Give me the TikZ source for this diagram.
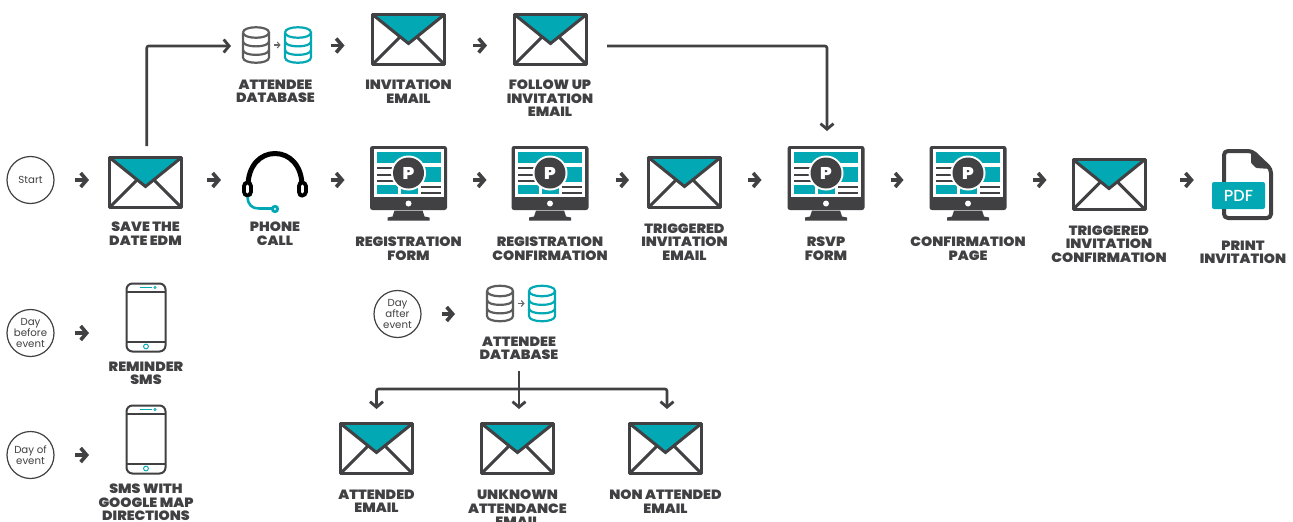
\documentclass[tikz,border=0pt]{standalone}
\usepackage{fontspec}
\setmainfont{Poppins}
\newfontfamily\lab[FakeStretch=1.06]{Poppins Black}
\newfontfamily\pdffont{Poppins Medium}
\usetikzlibrary{arrows.meta,calc}
\definecolor{ink}{HTML}{414042}
\definecolor{teal2}{HTML}{02A9B5}
\tikzset{
  x=1pt,y=-1pt,
  anchorbox/.style={inner sep=0pt,outer sep=0pt,draw=none},
  lbl/.style={anchor=north,inner sep=0pt,outer sep=0pt,align=center,text=ink,font=\lab\fontsize{13.4}{13.4}\selectfont},
  evt/.style={circle,draw=ink,line width=1.2pt,minimum size=47pt,inner sep=0pt,align=center,text=ink,font=\fontsize{10.2}{11}\selectfont},
  chev/.style={draw=ink,line width=3.6pt,-{Straight Barb[length=6pt,width=14pt,line width=3.6pt]}},
  flow/.style={draw=ink,line width=2.6pt,rounded corners=2pt,-{Straight Barb[length=5.5pt,width=13pt,line width=2.8pt]}},
  pics/envelope/.style={code={
    \fill[teal2] (-35,-25) -- (35,-25) -- (0,3) -- cycle;
    \draw[ink,line width=3pt,line join=round] (-36,-25) rectangle (36,25);
    \draw[ink,line width=3pt] (-36,-25) -- (0,4) -- (36,-25);
    \draw[ink,line width=3pt] (-36,25) -- (-9,-2);
    \draw[ink,line width=3pt] (36,25) -- (9,-2);
  }},
  pics/monitor/.style={code={
    \fill[ink,rounded corners=2.5pt] (-38.5,-37.5) rectangle (38.5,26.5);
    \fill[white] (-35,-34.5) rectangle (35,13.5);
    \fill[ink] (-14,27) -- (14,27) -- (16,33) -- (21,34) -- (21,37) -- (-21,37) -- (-21,34) -- (-16,33) -- cycle;
    \fill[white] (0,20) circle[radius=3pt];
    \fill[teal2] (-32,-32) rectangle (32,-20.5);
    \fill[teal2] (10,-16.5) rectangle (32,-2);
    \fill[teal2] (-32,1) rectangle (-11,10.5);
    \fill[teal2] (-8,1) rectangle (9,10.5);
    \fill[ink] (-32,-16.5) rectangle (-15,-14.5);
    \fill[ink] (-32,-10) rectangle (-15,-8);
    \fill[ink] (-32,-3.5) rectangle (-15,-1.5);
    \fill[ink] (12,2) rectangle (32,4.5);
    \fill[ink] (12,8) rectangle (32,10.5);
    \fill[white] (0,-10.5) circle[radius=17.5pt];
    \fill[ink] (0,-10.5) circle[radius=15.5pt];
    \node[text=white,inner sep=0pt,font=\lab\fontsize{17}{17}\selectfont] at (0,-10.5) {P};
  }},
  pics/dbase/.style={code={
    \draw[#1,line width=2.2pt] (-13,-12.5) -- (-13,12.5) .. controls (-13,19.5) and (13,19.5) .. (13,12.5) -- (13,-12.5);
    \draw[#1,line width=2.2pt] (-13,-12.5) .. controls (-13,-19.5) and (13,-19.5) .. (13,-12.5) .. controls (13,-5.5) and (-13,-5.5) .. (-13,-12.5);
    \draw[#1,line width=2.2pt] (-13,-3.5) .. controls (-13,3) and (13,3) .. (13,-3.5);
    \draw[#1,line width=2.2pt] (-13,5) .. controls (-13,11.5) and (13,11.5) .. (13,5);
  }},
  pics/twodb/.style={code={
    \pic at (-21,0) {dbase=ink!85};
    \pic at (21,0) {dbase=teal2};
    \draw[ink!80,line width=1.2pt,-{Straight Barb[length=2.5pt,width=6pt,line width=1.1pt]}] (-3.5,0) -- (3.5,0);
  }},
  pics/phone/.style={code={
    \draw[ink,line width=2pt,rounded corners=6pt] (-19.5,-34) rectangle (19.5,34);
    \draw[ink,line width=2pt] (-19.5,-25.5) -- (19.5,-25.5);
    \draw[ink,line width=2pt] (-19.5,24) -- (19.5,24);
    \draw[teal2,line width=1.6pt] (-6,-30) -- (6,-30);
    \draw[teal2,line width=.8pt] (9,-30) circle[radius=1.1pt];
    \draw[teal2,line width=1pt] (0,29) circle[radius=2.4pt];
  }},
}
\newcommand\chevto[5]{\draw[chev,shorten <=#4pt,shorten >=#5pt] (#1.east |- 0,#3) -- (#2.west |- 0,#3);}
\begin{document}
\begin{tikzpicture}
\useasboundingbox (0,0) rectangle (1293,522);
\fill[white] (0,0) rectangle (1293,522);
% event circles
\node[evt] (start) at (30.5,180) {Start};
\node[evt] (before) at (30.5,333) {Day\\before\\event};
\node[evt] (dayof) at (30.5,455) {Day of\\event};
\node[evt] (after) at (397.5,314) {Day\\after\\event};
% envelopes
\foreach \n/\cx/\cy in {invite/408.5/39.5,follow/550.5/39.5,save/145.5/182.5,trig/684.5/182.5,trigconf/1109/184.5,attended/376.5/448.5,unknown/517.5/448.5,nonatt/665.5/448.5}{
  \node[anchorbox,minimum width=75pt,minimum height=53pt] (\n) at (\cx,\cy) {};
  \pic at (\n) {envelope};
}
% monitors
\foreach \n/\cx in {regform/408.5,regconf/550,rsvp/826,confpage/968}{
  \node[anchorbox,minimum width=77pt,minimum height=75pt] (\n) at (\cx,183.5) {};
  \pic at (\n) {monitor};
}
% databases
\node[anchorbox,minimum width=70pt,minimum height=38pt] (db) at (277,45) {};
\pic at (db) {twodb};
\node[anchorbox,minimum width=70pt,minimum height=38pt] (dbb) at (521,303.5) {};
\pic at (dbb) {twodb};
% phones
\node[anchorbox,minimum width=40pt,minimum height=69pt] (remind) at (146,317.5) {};
\pic at (remind) {phone};
\node[anchorbox,minimum width=40pt,minimum height=69pt] (sms) at (146,439.5) {};
\pic at (sms) {phone};
% headset
\node[anchorbox,minimum width=67pt,minimum height=62pt] (call) at (275.5,182) {};
\draw[black,line width=5pt] (248,186) .. controls (248,166) and (260,153.5) .. (275,153.5) .. controls (290,153.5) and (302,166) .. (302,186);
\draw[black,line width=11pt,line cap=round] (247.5,186) -- (247.5,192);
\draw[black,line width=11pt,line cap=round] (302,186) -- (302,192);
\draw[white,line width=3pt,line cap=round] (247.5,186) -- (247.5,192);
\draw[white,line width=3pt,line cap=round] (302,186) -- (302,192);
\draw[teal2,line width=2.6pt] (247.5,197) .. controls (248,205) and (252,208.5) .. (259,208.5) -- (273,208.5);
\fill[teal2] (275,209) circle[radius=4.2pt];
\fill[white] (275,209) circle[radius=1.2pt];
% pdf
\node[anchorbox,minimum width=62pt,minimum height=70pt] (pdf) at (1243,184) {};
\draw[ink,line width=4pt,rounded corners=4pt,line join=round] (1224,182) -- (1224,151) -- (1252,151) -- (1271,169) -- (1271,218) -- (1224,218) -- (1224,209);
\fill[ink,rounded corners=1pt] (1251,151) -- (1271,169) -- (1256,168) -- (1251,163) -- cycle;
\node[fill=teal2,rounded corners=2pt,minimum width=53pt,minimum height=27pt,inner sep=0pt,text=white,font=\pdffont\fontsize{16}{16}\selectfont] (badge) at (1238.5,195.5) {PDF};
% labels
\node[lbl] (l1) at (275.5,80) {ATTENDEE\\DATABASE};
\node[lbl] (l2) at (408.5,80) {INVITATION\\EMAIL};
\node[lbl] (l3) at (550,80) {FOLLOW UP\\INVITATION\\EMAIL};
\node[lbl] (l4) at (145.5,222) {SAVE THE\\DATE EDM};
\node[lbl] (l5) at (275,222) {PHONE\\CALL};
\node[lbl] (l6) at (408.5,237) {REGISTRATION\\FORM};
\node[lbl] (l7) at (550,237) {REGISTRATION\\CONFIRMATION};
\node[lbl] (l8) at (684.5,224) {TRIGGERED\\INVITATION\\EMAIL};
\node[lbl] (l9) at (826,237) {RSVP\\FORM};
\node[lbl] (l10) at (968,237) {CONFIRMATION\\PAGE};
\node[lbl] (l11) at (1109,226) {TRIGGERED\\INVITATION\\CONFIRMATION};
\node[lbl] (l12) at (1243,241) {PRINT\\INVITATION};
\node[lbl] (l13) at (146,362) {REMINDER\\SMS};
\node[lbl] (l14) at (146,484) {SMS WITH\\GOOGLE MAP\\DIRECTIONS};
\node[lbl] (l15) at (519,337) {ATTENDEE\\DATABASE};
\node[lbl] (l16) at (376.5,490) {ATTENDED\\EMAIL};
\node[lbl] (l17) at (517.5,490) {UNKNOWN\\ATTENDANCE\\EMAIL};
\node[lbl] (l18) at (665.5,490) {NON ATTENDED\\EMAIL};
% chevron connectors
\chevto{start}{save}{180}{20.5}{19}
\chevto{save}{call}{180}{24}{21}
\chevto{call}{regform}{180}{21.5}{25.5}
\chevto{regform}{regconf}{180}{26}{25}
\chevto{regconf}{trig}{180}{27}{18}
\chevto{trig}{rsvp}{180}{26}{26}
\chevto{rsvp}{confpage}{180}{26}{26}
\chevto{confpage}{trigconf}{180}{26}{25}
\chevto{trigconf}{badge}{180}{33}{18}
\chevto{db}{invite}{45.5}{18.5}{26.5}
\chevto{invite}{follow}{45.5}{27}{26}
\chevto{before}{remind}{333}{20.5}{37}
\chevto{dayof}{sms}{455}{20.5}{37}
\chevto{after}{dbb}{314}{20}{31}
% long connectors
\draw[flow,shorten <=10pt,shorten >=11pt] ([xshift=1.2pt]save.north) |- (db.west |- 0,46);
\draw[flow,shorten <=19pt,shorten >=15pt] (follow.east |- 0,46) -| ([xshift=1pt]rsvp.north);
\draw[ink,line width=2.6pt,shorten <=11pt] (l15.south) -- (l15.south |- 0,389);
\draw[flow,shorten >=13pt] (l15.south |- 0,389) -| (attended.north);
\draw[flow,shorten >=13pt] (l15.south |- 0,389) -| ([xshift=1.5pt]nonatt.north);
\draw[flow,shorten >=13pt] (l15.south |- 0,389) -- (l15.south |- unknown.north);
\end{tikzpicture}
\end{document}
